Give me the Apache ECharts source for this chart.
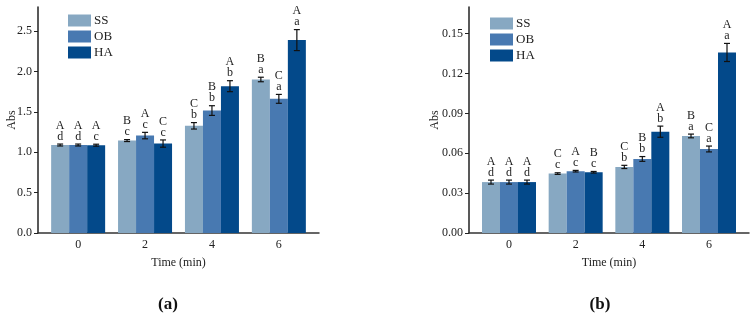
<!DOCTYPE html>
<html>
<head>
<meta charset="utf-8">
<script src="https://cdn.jsdelivr.net/npm/echarts@6/dist/echarts.min.js"></script>
<style>
  html, body { margin: 0; padding: 0; background: #fff; }
  #main { width: 754px; height: 319px; }
</style>
</head>
<body>
<div id="main"></div>
<script>
// time points (min)
const times = [0, 2, 4, 6];
const groups = ['SS', 'OB', 'HA'];
const colors = ['#87a8c2', '#4879b1', '#03498a'];

// (a) Abs
const absA = {
  SS: [1.090, 1.145, 1.328, 1.902],
  OB: [1.090, 1.207, 1.517, 1.662],
  HA: [1.088, 1.108, 1.819, 2.390]
};
const errA = {
  SS: [0.012, 0.012, 0.040, 0.028],
  OB: [0.012, 0.040, 0.060, 0.055],
  HA: [0.012, 0.045, 0.068, 0.130]
};
const upA = {
  SS: ['A', 'B', 'C', 'B'],
  OB: ['A', 'A', 'B', 'C'],
  HA: ['A', 'C', 'A', 'A']
};
const lowA = {
  SS: ['d', 'c', 'b', 'a'],
  OB: ['d', 'c', 'b', 'a'],
  HA: ['c', 'c', 'b', 'a']
};
const yTicksA = [0, 0.5, 1.0, 1.5, 2.0, 2.5];

// (b) Abs
const absB = {
  SS: [0.0383, 0.0447, 0.0497, 0.0730],
  OB: [0.0383, 0.0465, 0.0557, 0.0632],
  HA: [0.0383, 0.0457, 0.0762, 0.1358]
};
const errB = {
  SS: [0.0015, 0.0006, 0.0012, 0.0014],
  OB: [0.0015, 0.0006, 0.0018, 0.0022],
  HA: [0.0015, 0.0006, 0.0042, 0.0068]
};
const upB = {
  SS: ['A', 'C', 'C', 'B'],
  OB: ['A', 'A', 'B', 'C'],
  HA: ['A', 'B', 'A', 'A']
};
const lowB = {
  SS: ['d', 'c', 'b', 'a'],
  OB: ['d', 'c', 'b', 'a'],
  HA: ['d', 'c', 'b', 'a']
};
const yTicksB = [0, 0.03, 0.06, 0.09, 0.12, 0.15];

const FONT = '"Liberation Serif", "Times New Roman", serif';
const BAR_W = 18;

function errItems(abs, err, up, low) {
  const out = [];
  groups.forEach((g, k) => {
    times.forEach((t, i) => {
      out.push([t, abs[g][i], err[g][i], k, up[g][i], low[g][i]]);
    });
  });
  return out;
}

function renderErr(params, api) {
  const x = api.value(0), m = api.value(1), e = api.value(2), k = api.value(3);
  const off = (k - 1) * BAR_W;
  const top = api.coord([x, m + e]);
  const bot = api.coord([x, m - e]);
  const cx = top[0] + off;
  const cap = 3;
  const style = { stroke: '#111', lineWidth: 1.2 };
  return {
    type: 'group',
    children: [
      { type: 'line', shape: { x1: cx, y1: top[1], x2: cx, y2: bot[1] }, style },
      { type: 'line', shape: { x1: cx - cap, y1: top[1], x2: cx + cap, y2: top[1] }, style },
      { type: 'line', shape: { x1: cx - cap, y1: bot[1], x2: cx + cap, y2: bot[1] }, style },
      {
        type: 'text',
        x: cx, y: top[1] - 2,
        style: {
          text: api.value(4) + '\n' + api.value(5),
          fontFamily: FONT, fontSize: 12, lineHeight: 11,
          fill: '#222', align: 'center', verticalAlign: 'bottom'
        }
      }
    ]
  };
}

function xAxis(idx) {
  return {
    type: 'value', gridIndex: idx, min: -1.2, max: 7.2,
    name: 'Time (min)', nameLocation: 'middle', nameGap: 24,
    nameTextStyle: { fontFamily: FONT, fontSize: 12, color: '#222' },
    axisLine: { onZero: false, lineStyle: { color: '#333', width: 1.5 } },
    axisTick: { show: false },
    splitLine: { show: false },
    axisLabel: { customValues: times, fontFamily: FONT, fontSize: 12, color: '#222', margin: 6 }
  };
}

function yAxis(idx, max, ticks, dec) {
  return {
    type: 'value', gridIndex: idx, min: 0, max: max,
    name: 'Abs', nameLocation: 'middle', nameGap: dec === 1 ? 20 : 28,
    nameMoveOverlap: false,
    nameTextStyle: { fontFamily: FONT, fontSize: 12, color: '#222' },
    axisLine: { show: true, onZero: false, lineStyle: { color: '#222', width: 1.5 } },
    axisTick: { show: true, customValues: ticks, length: 4, lineStyle: { color: '#222' } },
    splitLine: { show: false },
    axisLabel: {
      customValues: ticks, fontFamily: FONT, fontSize: 12, color: '#222', margin: 6,
      formatter: v => v.toFixed(dec)
    }
  };
}

const series = [];
[[absA, 0], [absB, 1]].forEach(([abs, gi]) => {
  groups.forEach((g, k) => {
    series.push({
      name: g, type: 'bar', xAxisIndex: gi, yAxisIndex: gi,
      barWidth: BAR_W, barGap: '0%',
      itemStyle: { color: colors[k] },
      data: times.map((t, i) => [t, abs[g][i]])
    });
  });
});
series.push({
  type: 'custom', xAxisIndex: 0, yAxisIndex: 0, z: 10,
  renderItem: renderErr, data: errItems(absA, errA, upA, lowA)
});
series.push({
  type: 'custom', xAxisIndex: 1, yAxisIndex: 1, z: 10,
  renderItem: renderErr, data: errItems(absB, errB, upB, lowB)
});

const legendBase = {
  orient: 'vertical', icon: 'rect', itemWidth: 23, itemHeight: 12, itemGap: 3,
  textStyle: { fontFamily: FONT, fontSize: 13, color: '#222', padding: [0, 0, 0, -2] },
  data: groups
};

const chart = echarts.init(document.getElementById('main'));
chart.setOption({
  animation: false,
  backgroundColor: '#fff',
  grid: [
    { left: 38, top: 7, width: 281, height: 226 },
    { left: 469, top: 7, width: 280, height: 226 }
  ],
  legend: [
    Object.assign({}, legendBase, { left: 63, top: 9 }),
    Object.assign({}, legendBase, { left: 485, top: 12 })
  ],
  xAxis: [xAxis(0), xAxis(1)],
  yAxis: [yAxis(0, 2.8, yTicksA, 1), yAxis(1, 0.17, yTicksB, 2)],
  graphic: [
    { type: 'text', x: 168, y: 305, style: { text: '(a)', fontFamily: FONT, fontSize: 17, fontWeight: 'bold', fill: '#111', align: 'center', verticalAlign: 'middle' } },
    { type: 'text', x: 600, y: 305, style: { text: '(b)', fontFamily: FONT, fontSize: 17, fontWeight: 'bold', fill: '#111', align: 'center', verticalAlign: 'middle' } }
  ],
  series: series
});
</script>
</body>
</html>
